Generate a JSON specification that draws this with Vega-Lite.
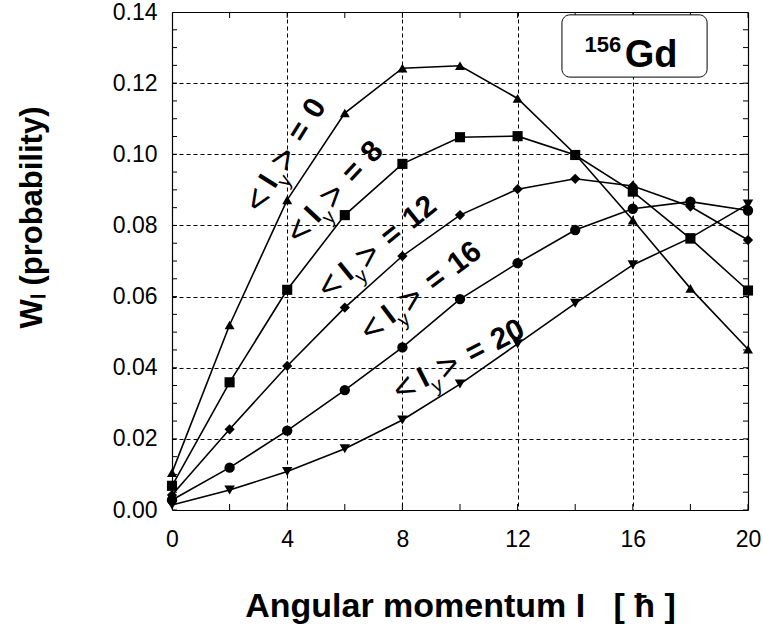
{
  "$schema": "https://vega.github.io/schema/vega-lite/v6.json",
  "width": 576,
  "height": 498,
  "autosize": {"type": "none"},
  "padding": {"left": 172, "top": 12, "right": 15, "bottom": 119},
  "background": "white",
  "config": {
    "font": "Liberation Sans",
    "view": {"stroke": null},
    "axis": {"domainColor": "black", "labelColor": "black", "titleColor": "black", "labelFont": "Liberation Sans", "titleFont": "Liberation Sans", "domainWidth": 1.2, "labelFlush": false}
  },
  "datasets": {
    "xt": [{"v": 0}, {"v": 2}, {"v": 4}, {"v": 6}, {"v": 8}, {"v": 10}, {"v": 12}, {"v": 14}, {"v": 16}, {"v": 18}, {"v": 20}],
    "yt": [{"v": 0}, {"v": 0.005}, {"v": 0.01}, {"v": 0.015}, {"v": 0.02}, {"v": 0.025}, {"v": 0.03}, {"v": 0.035}, {"v": 0.04}, {"v": 0.045}, {"v": 0.05}, {"v": 0.055}, {"v": 0.06}, {"v": 0.065}, {"v": 0.07}, {"v": 0.075}, {"v": 0.08}, {"v": 0.085}, {"v": 0.09}, {"v": 0.095}, {"v": 0.1}, {"v": 0.105}, {"v": 0.11}, {"v": 0.115}, {"v": 0.12}, {"v": 0.125}, {"v": 0.13}, {"v": 0.135}, {"v": 0.14}]
  },
  "data": {
    "values": [
      {"s": "0", "I": 0, "W": 0.0105}, {"s": "0", "I": 2, "W": 0.052}, {"s": "0", "I": 4, "W": 0.0872}, {"s": "0", "I": 6, "W": 0.1116}, {"s": "0", "I": 8, "W": 0.1242}, {"s": "0", "I": 10, "W": 0.1249}, {"s": "0", "I": 12, "W": 0.1157}, {"s": "0", "I": 14, "W": 0.1}, {"s": "0", "I": 16, "W": 0.0815}, {"s": "0", "I": 18, "W": 0.0623}, {"s": "0", "I": 20, "W": 0.0452},
      {"s": "8", "I": 0, "W": 0.0068}, {"s": "8", "I": 2, "W": 0.0359}, {"s": "8", "I": 4, "W": 0.0619}, {"s": "8", "I": 6, "W": 0.0829}, {"s": "8", "I": 8, "W": 0.0973}, {"s": "8", "I": 10, "W": 0.1048}, {"s": "8", "I": 12, "W": 0.1051}, {"s": "8", "I": 14, "W": 0.0998}, {"s": "8", "I": 16, "W": 0.0895}, {"s": "8", "I": 18, "W": 0.0763}, {"s": "8", "I": 20, "W": 0.0617},
      {"s": "12", "I": 0, "W": 0.0042}, {"s": "12", "I": 2, "W": 0.0227}, {"s": "12", "I": 4, "W": 0.0405}, {"s": "12", "I": 6, "W": 0.0569}, {"s": "12", "I": 8, "W": 0.0714}, {"s": "12", "I": 10, "W": 0.0829}, {"s": "12", "I": 12, "W": 0.0902}, {"s": "12", "I": 14, "W": 0.0931}, {"s": "12", "I": 16, "W": 0.0911}, {"s": "12", "I": 18, "W": 0.0853}, {"s": "12", "I": 20, "W": 0.0759},
      {"s": "16", "I": 0, "W": 0.0028}, {"s": "16", "I": 2, "W": 0.0119}, {"s": "16", "I": 4, "W": 0.0223}, {"s": "16", "I": 6, "W": 0.0337}, {"s": "16", "I": 8, "W": 0.0457}, {"s": "16", "I": 10, "W": 0.0593}, {"s": "16", "I": 12, "W": 0.0694}, {"s": "16", "I": 14, "W": 0.0787}, {"s": "16", "I": 16, "W": 0.0847}, {"s": "16", "I": 18, "W": 0.0867}, {"s": "16", "I": 20, "W": 0.0842},
      {"s": "20", "I": 0, "W": 0.0014}, {"s": "20", "I": 2, "W": 0.0056}, {"s": "20", "I": 4, "W": 0.0108}, {"s": "20", "I": 6, "W": 0.0172}, {"s": "20", "I": 8, "W": 0.0253}, {"s": "20", "I": 10, "W": 0.0354}, {"s": "20", "I": 12, "W": 0.0467}, {"s": "20", "I": 14, "W": 0.0581}, {"s": "20", "I": 16, "W": 0.0689}, {"s": "20", "I": 18, "W": 0.0765}, {"s": "20", "I": 20, "W": 0.086}
    ]
  },
  "layer": [
    {
      "mark": {"type": "line", "color": "black", "strokeWidth": 1.6},
      "encoding": {
        "x": {
          "field": "I", "type": "quantitative",
          "scale": {"domain": [0, 20], "nice": false, "zero": false},
          "axis": {
            "orient": "bottom",
            "values": [0, 4, 8, 12, 16, 20],
            "ticks": false,
            "labelPadding": 18,
            "labelFontSize": 23,
            "grid": true,
            "gridColor": "black",
            "gridDash": [4, 3],
            "gridWidth": 1,
            "gridOpacity": {"condition": {"test": "datum.value > 0 && datum.value < 20", "value": 1}, "value": 0},
            "title": "Angular momentum I\u00a0\u00a0\u00a0[\u00a0ħ\u00a0]",
            "titleFontSize": 34,
            "titleFontWeight": "bold",
            "titleY": 106,
            "titleBaseline": "alphabetic"
          }
        },
        "y": {
          "field": "W", "type": "quantitative",
          "scale": {"domain": [0, 0.14], "nice": false, "zero": false},
          "axis": {
            "orient": "left",
            "values": [0, 0.02, 0.04, 0.06, 0.08, 0.1, 0.12, 0.14],
            "format": ".2f",
            "ticks": false,
            "labelPadding": 15,
            "labelFontSize": 23,
            "grid": true,
            "gridColor": "black",
            "gridDash": [4, 3],
            "gridWidth": 1,
            "gridOpacity": {"condition": {"test": "datum.value > 0.001 && datum.value < 0.139", "value": 1}, "value": 0},
            "title": "Wₗ  (probability)",
            "titleFontSize": 31,
            "titleFontWeight": "bold",
            "titleAngle": -90,
            "titleX": -131,
            "titleY": 205,
            "titleBaseline": "alphabetic",
            "titleAlign": "center"
          }
        },
        "detail": {"field": "s"}
      }
    },
    {
      "mark": {"type": "point", "filled": true, "color": "black", "opacity": 1},
      "encoding": {
        "x": {
          "field": "I", "type": "quantitative",
          "axis": {"orient": "top", "labels": false, "ticks": false, "grid": false, "title": null}
        },
        "y": {
          "field": "W", "type": "quantitative",
          "axis": {"orient": "right", "labels": false, "ticks": false, "grid": false, "title": null}
        },
        "shape": {"field": "s", "type": "nominal", "scale": {"domain": ["0", "8", "12", "16", "20"], "range": ["triangle-up", "square", "diamond", "circle", "triangle-down"]}, "legend": null},
        "size": {"field": "s", "type": "nominal", "scale": {"domain": ["0", "8", "12", "16", "20"], "range": [100, 110, 70, 85, 100]}, "legend": null}
      }
    },
    {
      "data": {"name": "xt"},
      "mark": {"type": "tick", "orient": "vertical", "size": 12, "thickness": 1, "clip": true, "color": "black", "opacity": 1},
      "encoding": {
        "x": {"field": "v", "type": "quantitative", "axis": null},
        "y": {"datum": 0, "type": "quantitative", "axis": null}
      }
    },
    {
      "data": {"name": "xt"},
      "mark": {"type": "tick", "orient": "vertical", "size": 12, "thickness": 1, "clip": true, "color": "black", "opacity": 1},
      "encoding": {
        "x": {"field": "v", "type": "quantitative", "axis": null},
        "y": {"datum": 0.14, "type": "quantitative", "axis": null}
      }
    },
    {
      "data": {"name": "yt"},
      "mark": {"type": "tick", "orient": "horizontal", "size": 10, "thickness": 1, "clip": true, "color": "black", "opacity": 1},
      "encoding": {
        "y": {"field": "v", "type": "quantitative", "axis": null},
        "x": {"datum": 0, "type": "quantitative", "axis": null}
      }
    },
    {
      "data": {"name": "yt"},
      "mark": {"type": "tick", "orient": "horizontal", "size": 10, "thickness": 1, "clip": true, "color": "black", "opacity": 1},
      "encoding": {
        "y": {"field": "v", "type": "quantitative", "axis": null},
        "x": {"datum": 20, "type": "quantitative", "axis": null}
      }
    },
    {
      "data": {"values": [{}]},
      "mark": {"type": "rect", "cornerRadius": 8, "fill": "white", "stroke": "black", "strokeWidth": 1},
      "encoding": {
        "x": {"datum": 13.54, "type": "quantitative", "axis": null},
        "x2": {"datum": 18.58},
        "y": {"datum": 0.1392, "type": "quantitative", "axis": null},
        "y2": {"datum": 0.1217}
      }
    },
    {
      "data": {"values": [{}]},
      "mark": {"type": "text", "text": "156", "align": "right", "baseline": "alphabetic", "fontSize": 22, "fontWeight": "bold", "color": "black"},
      "encoding": {
        "x": {"datum": 15.6, "type": "quantitative", "axis": null},
        "y": {"datum": 0.1288, "type": "quantitative", "axis": null}
      }
    },
    {
      "data": {"values": [{}]},
      "mark": {"type": "text", "text": "Gd", "align": "left", "baseline": "alphabetic", "fontSize": 38, "fontWeight": "bold", "color": "black"},
      "encoding": {
        "x": {"datum": 15.72, "type": "quantitative", "axis": null},
        "y": {"datum": 0.1246, "type": "quantitative", "axis": null}
      }
    },
    {
      "data": {"values": [{}]},
      "encoding": {"x": {"datum": 3.08, "type": "quantitative", "axis": null}, "y": {"datum": 0.0838, "type": "quantitative", "axis": null}},
      "layer": [
        {"mark": {"type": "text", "text": "<", "angle": 302, "align": "left", "baseline": "alphabetic", "fontSize": 36, "dx": -2, "dy": 3, "color": "black"}},
        {"mark": {"type": "text", "text": "I", "angle": 302, "align": "left", "baseline": "alphabetic", "fontSize": 30, "fontWeight": "bold", "dx": 26, "color": "black"}},
        {"mark": {"type": "text", "text": "y", "angle": 302, "align": "left", "baseline": "alphabetic", "fontSize": 20, "dx": 34, "dy": 10, "color": "black"}},
        {"mark": {"type": "text", "text": ">", "angle": 302, "align": "left", "baseline": "alphabetic", "fontSize": 36, "dx": 47, "dy": 3, "color": "black"}},
        {"mark": {"type": "text", "text": "=", "angle": 302, "align": "left", "baseline": "alphabetic", "fontSize": 30, "fontWeight": "bold", "dx": 80, "color": "black"}},
        {"mark": {"type": "text", "text": "0", "angle": 302, "align": "left", "baseline": "alphabetic", "fontSize": 30, "fontWeight": "bold", "dx": 108, "color": "black"}}
      ]
    },
    {
      "data": {"values": [{}]},
      "encoding": {"x": {"datum": 4.43, "type": "quantitative", "axis": null}, "y": {"datum": 0.075, "type": "quantitative", "axis": null}},
      "layer": [
        {"mark": {"type": "text", "text": "<", "angle": 313, "align": "left", "baseline": "alphabetic", "fontSize": 36, "dx": -2, "dy": 3, "color": "black"}},
        {"mark": {"type": "text", "text": "I", "angle": 313, "align": "left", "baseline": "alphabetic", "fontSize": 30, "fontWeight": "bold", "dx": 26, "color": "black"}},
        {"mark": {"type": "text", "text": "y", "angle": 313, "align": "left", "baseline": "alphabetic", "fontSize": 20, "dx": 34, "dy": 10, "color": "black"}},
        {"mark": {"type": "text", "text": ">", "angle": 313, "align": "left", "baseline": "alphabetic", "fontSize": 36, "dx": 47, "dy": 3, "color": "black"}},
        {"mark": {"type": "text", "text": "=", "angle": 313, "align": "left", "baseline": "alphabetic", "fontSize": 30, "fontWeight": "bold", "dx": 80, "color": "black"}},
        {"mark": {"type": "text", "text": "8", "angle": 313, "align": "left", "baseline": "alphabetic", "fontSize": 30, "fontWeight": "bold", "dx": 108, "color": "black"}}
      ]
    },
    {
      "data": {"values": [{}]},
      "encoding": {"x": {"datum": 5.44, "type": "quantitative", "axis": null}, "y": {"datum": 0.0596, "type": "quantitative", "axis": null}},
      "layer": [
        {"mark": {"type": "text", "text": "<", "angle": 321, "align": "left", "baseline": "alphabetic", "fontSize": 36, "dx": -2, "dy": 3, "color": "black"}},
        {"mark": {"type": "text", "text": "I", "angle": 321, "align": "left", "baseline": "alphabetic", "fontSize": 30, "fontWeight": "bold", "dx": 26, "color": "black"}},
        {"mark": {"type": "text", "text": "y", "angle": 321, "align": "left", "baseline": "alphabetic", "fontSize": 20, "dx": 34, "dy": 10, "color": "black"}},
        {"mark": {"type": "text", "text": ">", "angle": 321, "align": "left", "baseline": "alphabetic", "fontSize": 36, "dx": 47, "dy": 3, "color": "black"}},
        {"mark": {"type": "text", "text": "=", "angle": 321, "align": "left", "baseline": "alphabetic", "fontSize": 30, "fontWeight": "bold", "dx": 80, "color": "black"}},
        {"mark": {"type": "text", "text": "12", "angle": 321, "align": "left", "baseline": "alphabetic", "fontSize": 30, "fontWeight": "bold", "dx": 108, "color": "black"}}
      ]
    },
    {
      "data": {"values": [{}]},
      "encoding": {"x": {"datum": 6.89, "type": "quantitative", "axis": null}, "y": {"datum": 0.0477, "type": "quantitative", "axis": null}},
      "layer": [
        {"mark": {"type": "text", "text": "<", "angle": 323, "align": "left", "baseline": "alphabetic", "fontSize": 36, "dx": -2, "dy": 3, "color": "black"}},
        {"mark": {"type": "text", "text": "I", "angle": 323, "align": "left", "baseline": "alphabetic", "fontSize": 30, "fontWeight": "bold", "dx": 26, "color": "black"}},
        {"mark": {"type": "text", "text": "y", "angle": 323, "align": "left", "baseline": "alphabetic", "fontSize": 20, "dx": 34, "dy": 10, "color": "black"}},
        {"mark": {"type": "text", "text": ">", "angle": 323, "align": "left", "baseline": "alphabetic", "fontSize": 36, "dx": 47, "dy": 3, "color": "black"}},
        {"mark": {"type": "text", "text": "=", "angle": 323, "align": "left", "baseline": "alphabetic", "fontSize": 30, "fontWeight": "bold", "dx": 80, "color": "black"}},
        {"mark": {"type": "text", "text": "16", "angle": 323, "align": "left", "baseline": "alphabetic", "fontSize": 30, "fontWeight": "bold", "dx": 108, "color": "black"}}
      ]
    },
    {
      "data": {"values": [{}]},
      "encoding": {"x": {"datum": 7.94, "type": "quantitative", "axis": null}, "y": {"datum": 0.031, "type": "quantitative", "axis": null}},
      "layer": [
        {"mark": {"type": "text", "text": "<", "angle": 333, "align": "left", "baseline": "alphabetic", "fontSize": 36, "dx": -2, "dy": 3, "color": "black"}},
        {"mark": {"type": "text", "text": "I", "angle": 333, "align": "left", "baseline": "alphabetic", "fontSize": 30, "fontWeight": "bold", "dx": 26, "color": "black"}},
        {"mark": {"type": "text", "text": "y", "angle": 333, "align": "left", "baseline": "alphabetic", "fontSize": 20, "dx": 34, "dy": 10, "color": "black"}},
        {"mark": {"type": "text", "text": ">", "angle": 333, "align": "left", "baseline": "alphabetic", "fontSize": 36, "dx": 47, "dy": 3, "color": "black"}},
        {"mark": {"type": "text", "text": "=", "angle": 333, "align": "left", "baseline": "alphabetic", "fontSize": 30, "fontWeight": "bold", "dx": 80, "color": "black"}},
        {"mark": {"type": "text", "text": "20", "angle": 333, "align": "left", "baseline": "alphabetic", "fontSize": 30, "fontWeight": "bold", "dx": 108, "color": "black"}}
      ]
    }
  ],
  "resolve": {"axis": {"x": "independent", "y": "independent"}}
}
